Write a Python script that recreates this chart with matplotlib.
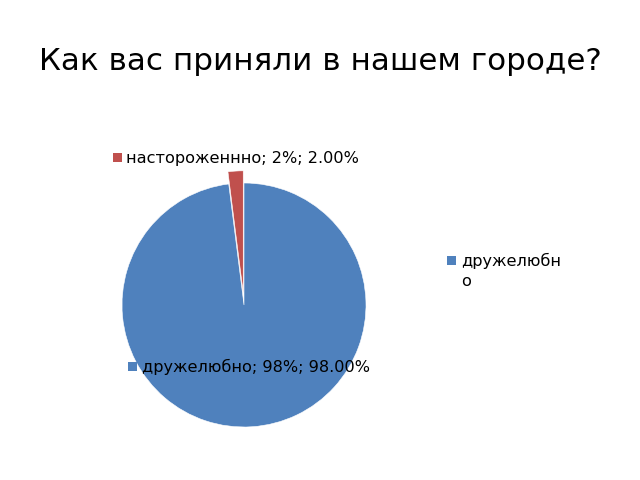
import matplotlib
matplotlib.use("Agg")
import matplotlib.pyplot as plt
from matplotlib.patches import Rectangle

categories = ["дружелюбно", "настороженнно"]
shares = [98, 2]
pct_labels = ["98%", "2%"]
colors = ["#4F81BD", "#C0504D"]
title = "Как вас приняли в нашем городе?"

W, H = 640, 480
fig = plt.figure(figsize=(6.4, 4.8), dpi=100)


def fx(px):
    return px / W


def fy(py):
    return 1 - py / H


# pie centre (244, 305), radius ~122 px
r_px = 122
half = r_px * 1.25
ax = fig.add_axes([fx(244 - half), fy(305 + half), 2 * half / W, 2 * half / H])
ax.pie(shares, colors=colors, startangle=90, counterclock=False,
       explode=[0, 0.1], radius=1.0,
       wedgeprops={"edgecolor": "white", "linewidth": 0.4})
ax.set_xlim(-1.25, 1.25)
ax.set_ylim(-1.25, 1.25)
ax.set_aspect("auto")
ax.axis("off")

fig.text(0.5, fy(62), title, ha="center", va="center", fontsize=22.3)


def square(px, py, color, size=9):
    fig.patches.append(Rectangle((fx(px), fy(py + size)), size / W, size / H,
                                 transform=fig.transFigure, facecolor=color,
                                 edgecolor="none"))


# data labels
square(113, 153, colors[1])
fig.text(fx(126), fy(158), f"{categories[1]}; {pct_labels[1]}; {shares[1]:.2f}%",
         ha="left", va="center", fontsize=11.6)
square(128, 362, colors[0])
fig.text(fx(142), fy(367), f"{categories[0]}; {pct_labels[0]}; {shares[0]:.2f}%",
         ha="left", va="center", fontsize=11.6)

# legend (wrapped like the original)
square(447, 256, colors[0])
fig.text(fx(461), fy(261), categories[0][:-1], ha="left", va="center", fontsize=11.6)
fig.text(fx(461), fy(281), categories[0][-1], ha="left", va="center", fontsize=11.6)

fig.savefig("out.png", dpi=100)
